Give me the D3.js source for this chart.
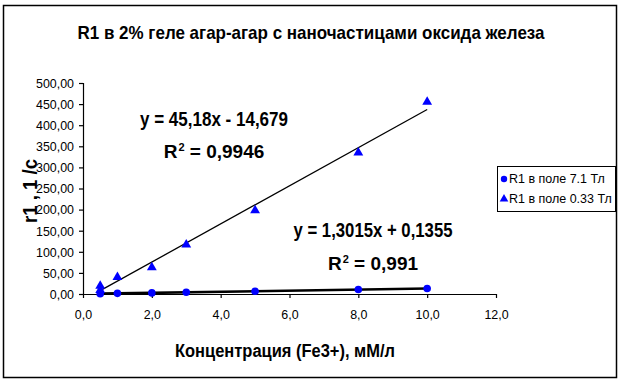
<!DOCTYPE html>
<html><head><meta charset="utf-8">
<script src="https://cdn.jsdelivr.net/npm/d3@7"></script>
<style>
body{margin:0;background:#fff;}
text{font-family:"Liberation Sans",Arial,sans-serif;fill:#000;}
</style></head>
<body><svg id="c" width="623" height="384"></svg>
<script>
const title = "R1 в 2% геле агар-агар с наночастицами оксида железа";
const xTitle = "Концентрация (Fe3+), мМ/л";
const yTitle = "r1 , 1 /c";
const seriesNames = ["R1 в поле 7.1 Тл", "R1 в поле 0.33 Тл"];
const conc1 = [0.5, 1, 2, 3, 5, 8, 10];
const r1_71T = [0.8, 1.5, 2.6, 4.1, 6.6, 10.5, 13.1];
const conc2 = [0.5, 0.5, 1, 2, 3, 5, 8, 10];
const r1_033T = [9, 19, 40, 63, 117, 198, 335, 455];
const fit1 = {slope: 1.3015, intercept: 0.1355, eq: "y = 1,3015x + 0,1355", r2: "0,991"};
const fit2 = {slope: 45.18, intercept: -14.679, eq: "y = 45,18x - 14,679", r2: "0,9946"};
const xTicks = [0, 2, 4, 6, 8, 10, 12];
const yTicks = [0, 50, 100, 150, 200, 250, 300, 350, 400, 450, 500];

const svg = d3.select("#c");
svg.append("rect").attr("x",3.5).attr("y",5.5).attr("width",613).attr("height",372)
  .attr("fill","#fff").attr("stroke","#000").attr("stroke-width",1.5);

function condense(sel, f){
  sel.each(function(){
    const w = this.getComputedTextLength();
    d3.select(this).attr("textLength", w*f).attr("lengthAdjust","spacingAndGlyphs");
  });
}
function fitWidth(sel, w){
  sel.attr("textLength", w).attr("lengthAdjust","spacingAndGlyphs");
}

const x = d3.scaleLinear().domain([0,12]).range([83,496]);
const y = d3.scaleLinear().domain([0,500]).range([294,83]);
const fmtX = d => d.toFixed(1).replace(".", ",");
const fmtY = d => d.toFixed(2).replace(".", ",");

const gx = svg.append("g").attr("transform","translate(0,294)")
  .call(d3.axisBottom(x).tickValues(xTicks).tickFormat(fmtX).tickSize(4).tickPadding(11));
const gy = svg.append("g").attr("transform","translate(83,0)")
  .call(d3.axisLeft(y).tickValues(yTicks).tickFormat(fmtY).tickSize(4).tickPadding(5));
[gx,gy].forEach(g=>{
  g.selectAll("path,line").attr("stroke","#000").attr("stroke-width",1.2);
  g.selectAll("text").attr("font-size",13.5).attr("font-family","Liberation Sans, Arial, sans-serif");
  condense(g.selectAll("text"), 0.92);
});
gy.select(".domain").attr("d","M0.5,294V83");
gx.select(".domain").attr("d","M83,0.5H496");

// trend lines
const line = d3.line().x(d=>x(d[0])).y(d=>y(d[1]));
svg.append("path").datum(d3.extent(conc1).map(v=>[v, fit1.slope*v+fit1.intercept]))
  .attr("d",line).attr("stroke","#000").attr("stroke-width",2.6).attr("fill","none");
svg.append("path").datum(d3.extent(conc2).map(v=>[v, fit2.slope*v+fit2.intercept]))
  .attr("d",line).attr("stroke","#000").attr("stroke-width",1.3).attr("fill","none");

// markers
svg.append("g").selectAll("circle").data(conc1.map((v,i)=>[v,r1_71T[i]])).join("circle")
  .attr("cx",d=>x(d[0])).attr("cy",d=>y(d[1])).attr("r",3.8).attr("fill","#0000ff");
const tri = d3.symbol().type(d3.symbolTriangle).size(42);
svg.append("g").selectAll("path").data(conc2.map((v,i)=>[v,r1_033T[i]])).join("path")
  .attr("d",tri).attr("transform",d=>`translate(${x(d[0])},${y(d[1])})`).attr("fill","#0000ff");

// title & axis titles
fitWidth(svg.append("text").attr("x",311).attr("y",39).attr("text-anchor","middle")
  .attr("font-size",19).attr("font-weight","bold").text(title), 467);
fitWidth(svg.append("text").attr("x",285).attr("y",357).attr("text-anchor","middle")
  .attr("font-size",18).attr("font-weight","bold").text(xTitle), 220);
fitWidth(svg.append("text").attr("transform","translate(37,191) rotate(-90)").attr("text-anchor","middle")
  .attr("font-size",21).attr("font-weight","bold").text(yTitle), 64);

// equation labels
function eqLabel(cx, yb1, yb2, fit, w1){
  fitWidth(svg.append("text").attr("x",cx).attr("y",yb1).attr("text-anchor","middle")
    .attr("font-size",20).attr("font-weight","bold").text(fit.eq), w1);
  const t = svg.append("text").attr("x",cx).attr("y",yb2).attr("text-anchor","middle")
    .attr("font-size",19).attr("font-weight","bold");
  t.append("tspan").text("R");
  t.append("tspan").attr("dy",-7).attr("dx",1).attr("font-size",11).text("2");
  t.append("tspan").attr("dy",7).text(" = " + fit.r2);
}
eqLabel(214, 126, 158, fit2, 148);
eqLabel(373, 237, 270, fit1, 159);

// legend
const lg = svg.append("g");
lg.append("rect").attr("x",497.5).attr("y",166.5).attr("width",118).attr("height",45)
  .attr("fill","#fff").attr("stroke","#000").attr("stroke-width",1);
lg.append("circle").attr("cx",504).attr("cy",179).attr("r",3.2).attr("fill","#0000ff");
lg.append("path").attr("d",d3.symbol().type(d3.symbolTriangle).size(32))
  .attr("transform","translate(504,199)").attr("fill","#0000ff");
seriesNames.forEach((n,i)=>{
  condense(lg.append("text").attr("x",509).attr("y",183+i*20).attr("font-size",13).text(n), 0.96);
});
</script></body></html>
